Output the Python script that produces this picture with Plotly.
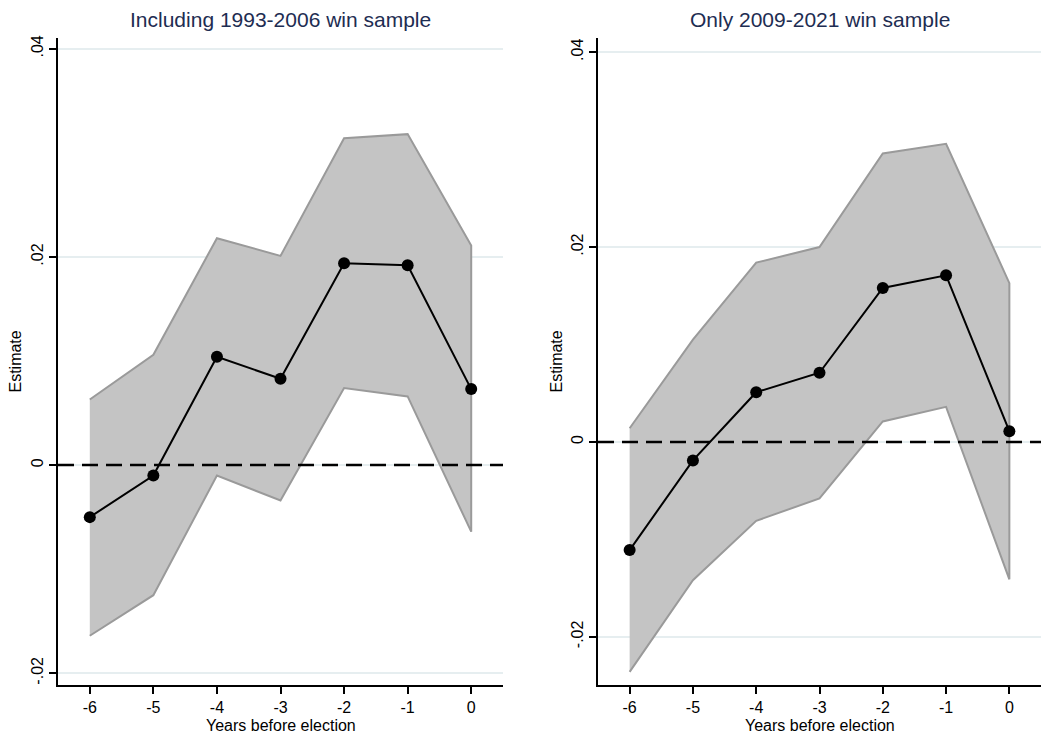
import plotly.graph_objects as go

years = [-6, -5, -4, -3, -2, -1, 0]

# Panel 1: Including 1993-2006 win sample
est_a = [-0.0050, -0.0010, 0.0104, 0.0083, 0.0194, 0.0192, 0.0073]
hi_a = [0.0063, 0.0106, 0.0218, 0.0201, 0.0314, 0.0318, 0.0211]
lo_a = [-0.0164, -0.0125, -0.0010, -0.0034, 0.0074, 0.0066, -0.0064]

# Panel 2: Only 2009-2021 win sample
est_b = [-0.0111, -0.0019, 0.0051, 0.0071, 0.0158, 0.0171, 0.0011]
hi_b = [0.0014, 0.0105, 0.0184, 0.0200, 0.0296, 0.0306, 0.0163]
lo_b = [-0.0236, -0.0142, -0.0081, -0.0058, 0.0021, 0.0036, -0.0141]

titles = ["Including 1993-2006 win sample", "Only 2009-2021 win sample"]
ytick_vals = [-0.02, 0, 0.02, 0.04]
ytick_text = ["-.02", "0", ".02", ".04"]
xtick_vals = years
xtick_text = ["-6", "-5", "-4", "-3", "-2", "-1", "0"]
xlabel = "Years before election"
ylabel = "Estimate"

FONT = "Liberation Sans, Arial, sans-serif"
fig = go.Figure()

panels = [
    (est_a, hi_a, lo_a, "x", "y", [-0.02115, 0.04105]),
    (est_b, hi_b, lo_b, "x2", "y2", [-0.02497, 0.04147]),
]
for est, hi, lo, xa, ya, yr in panels:
    fig.add_trace(go.Scatter(
        x=years + years[::-1], y=hi + lo[::-1], fill="toself",
        fillcolor="#c4c4c4", line=dict(color="#9a9a9a", width=2),
        mode="lines", xaxis=xa, yaxis=ya, showlegend=False, hoverinfo="skip"))
    fig.add_trace(go.Scatter(
        x=years, y=est, mode="lines+markers",
        line=dict(color="black", width=2),
        marker=dict(color="black", size=12),
        xaxis=xa, yaxis=ya, showlegend=False))
    fig.add_shape(type="line", x0=-6.5, x1=0.5, y0=0, y1=0,
                  xref=xa, yref=ya, line=dict(color="black", width=2.5, dash="16px,8px"))

xdoms = [[58 / 1046, 503 / 1046], [598 / 1046, 1041 / 1046]]
ydom = [1 - 685 / 735, 1 - 35 / 735]

axis_common_x = dict(
    range=[-6.5, 0.5], tickvals=xtick_vals, ticktext=xtick_text,
    showgrid=False, zeroline=False, showline=True, linecolor="black", linewidth=2,
    ticks="outside", ticklen=7, tickwidth=2, tickcolor="black",
    tickfont=dict(size=16, color="black", family=FONT))
axis_common_y = dict(
    tickvals=ytick_vals, ticktext=ytick_text, tickangle=-90,
    showgrid=True, gridcolor="#e6eef0", gridwidth=2, zeroline=False,
    showline=True, linecolor="black", linewidth=2,
    ticks="outside", ticklen=7, tickwidth=2, tickcolor="black",
    tickfont=dict(size=16, color="black", family=FONT),
    domain=ydom)

fig.update_layout(
    width=1046, height=735,
    margin=dict(l=0, r=0, t=0, b=0),
    paper_bgcolor="white", plot_bgcolor="white",
    font=dict(family=FONT),
    xaxis=dict(axis_common_x, domain=xdoms[0], anchor="y"),
    yaxis=dict(axis_common_y, range=panels[0][5], anchor="x"),
    xaxis2=dict(axis_common_x, domain=xdoms[1], anchor="y2"),
    yaxis2=dict(axis_common_y, range=panels[1][5], anchor="x2"),
)

ylabel_x = [16, 557]
for i, t in enumerate(titles):
    cx = (xdoms[i][0] + xdoms[i][1]) / 2
    fig.add_annotation(text=t, x=cx, y=1 - 17 / 735,
                       xref="paper", yref="paper", showarrow=False,
                       xanchor="center", yanchor="middle",
                       font=dict(size=21, color="#1e2d52", family=FONT))
    fig.add_annotation(text=xlabel, x=cx, y=1 - 725 / 735,
                       xref="paper", yref="paper", showarrow=False,
                       xanchor="center", yanchor="middle",
                       font=dict(size=16, color="black", family=FONT))
    fig.add_annotation(text=ylabel, x=ylabel_x[i] / 1046, y=(ydom[0] + ydom[1]) / 2,
                       xref="paper", yref="paper", showarrow=False, textangle=-90,
                       xanchor="center", yanchor="middle",
                       font=dict(size=16, color="black", family=FONT))

fig.write_html("out.html")
